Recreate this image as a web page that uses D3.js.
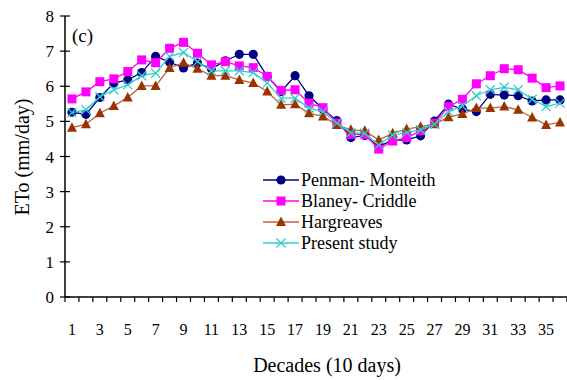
<!DOCTYPE html>
<html><head><meta charset="utf-8">
<script src="https://cdn.jsdelivr.net/npm/d3@7"></script>
<style>body{margin:0;background:#fff}svg{display:block}text{font-family:"Liberation Serif","Times New Roman",serif;fill:#000}</style>
</head><body><svg id="c" width="567" height="380"></svg>
<script>
const decades = d3.range(1, 37);
const tickLabels = d3.range(1, 37, 2);
const penman = [5.26,5.2,5.68,6.09,6.18,6.39,6.85,6.69,6.52,6.66,6.5,6.72,6.91,6.91,6.28,5.85,6.3,5.73,5.35,5.02,4.54,4.6,4.28,4.47,4.47,4.59,5.01,5.49,5.35,5.28,5.77,5.75,5.73,5.58,5.61,5.61];
const blaney = [5.64,5.84,6.13,6.21,6.42,6.75,6.67,7.08,7.25,6.94,6.61,6.7,6.58,6.53,6.28,5.88,5.9,5.52,5.39,4.95,4.63,4.63,4.21,4.44,4.54,4.73,4.95,5.42,5.63,6.07,6.3,6.5,6.47,6.23,5.96,6.01];
const hargreaves = [4.82,4.92,5.23,5.44,5.68,6.01,6.01,6.52,6.67,6.5,6.3,6.3,6.18,6.09,5.85,5.47,5.49,5.23,5.14,4.9,4.76,4.73,4.47,4.66,4.78,4.85,4.92,5.12,5.21,5.38,5.38,5.42,5.33,5.11,4.9,4.97];
const present = [5.25,5.33,5.7,5.9,6.04,6.3,6.37,6.85,6.96,6.7,6.44,6.44,6.44,6.39,6.09,5.66,5.66,5.38,5.28,4.95,4.68,4.66,4.33,4.61,4.68,4.76,4.92,5.28,5.44,5.73,5.9,5.97,5.9,5.63,5.42,5.52];
const seriesNames = ["Penman- Monteith","Blaney- Criddle","Hargreaves","Present study"];
const yTicks = [0,1,2,3,4,5,6,7,8];

const svg = d3.select("#c");
const x = d3.scaleBand().domain(decades).range([65, 567]);
const y = d3.scaleLinear().domain([0, 8]).range([297, 16]);

const series = [
  {name: seriesNames[0], values: penman, line: "#000080", fill: "#000080", shape: "circle"},
  {name: seriesNames[1], values: blaney, line: "#ff00ff", fill: "#ff00ff", shape: "square"},
  {name: seriesNames[2], values: hargreaves, line: "#b4643c", fill: "#993300", shape: "triangle"},
  {name: seriesNames[3], values: present, line: "#33cccc", fill: "#33cccc", shape: "x"}
];

// axes
const xAxis = svg.append("g").attr("transform", "translate(0,297)");
xAxis.append("line").attr("x1", 65).attr("x2", 567).attr("stroke", "#000").attr("stroke-width", 1.5);
xAxis.selectAll("line.t").data(d3.range(0, 37)).join("line").attr("class","t")
  .attr("x1", i => 65 + i * x.step()).attr("x2", i => 65 + i * x.step())
  .attr("y1", 0).attr("y2", 5).attr("stroke", "#000").attr("stroke-width", 1.2);
xAxis.selectAll("text").data(tickLabels).join("text")
  .attr("x", d => x(d) + x.bandwidth()/2).attr("y", 38)
  .attr("text-anchor", "middle").attr("font-size", 16).text(d => d);

const yAxis = svg.append("g");
yAxis.append("line").attr("x1", 65).attr("x2", 65).attr("y1", 16).attr("y2", 297).attr("stroke", "#000").attr("stroke-width", 1.5);
yAxis.selectAll("line.t").data(yTicks).join("line").attr("class","t")
  .attr("x1", 60).attr("x2", 70).attr("y1", d => y(d)).attr("y2", d => y(d))
  .attr("stroke", "#000").attr("stroke-width", 1.2);
yAxis.selectAll("text").data(yTicks).join("text")
  .attr("x", 54).attr("y", d => y(d) + 6).attr("text-anchor", "end")
  .attr("font-size", 17).text(d => d);

svg.append("text").attr("transform", "translate(29,157) rotate(-90)")
  .attr("text-anchor", "middle").attr("font-size", 20).text("ETo (mm/day)");
svg.append("text").attr("x", 327).attr("y", 372).attr("text-anchor", "middle")
  .attr("font-size", 20).text("Decades (10 days)");
svg.append("text").attr("x", 72).attr("y", 42).attr("font-size", 19).text("(c)");

function marker(g, shape, fill, cx, cy) {
  if (shape === "circle") g.append("circle").attr("cx", cx).attr("cy", cy).attr("r", 4.6).attr("fill", fill);
  else if (shape === "square") g.append("rect").attr("x", cx-4.5).attr("y", cy-4.5).attr("width", 9).attr("height", 9).attr("fill", fill);
  else if (shape === "triangle") g.append("path").attr("d", `M${cx},${cy-5.5}L${cx+5},${cy+4}L${cx-5},${cy+4}Z`).attr("fill", fill);
  else g.append("path").attr("d", `M${cx-4.5},${cy-4.5}L${cx+4.5},${cy+4.5}M${cx+4.5},${cy-4.5}L${cx-4.5},${cy+4.5}`).attr("stroke", fill).attr("stroke-width", 1.3).attr("fill", "none");
}

const line = d3.line().x((d, i) => x(decades[i]) + x.bandwidth()/2).y(d => y(d));
[0, 1, 2, 3].forEach(k => {
  const s = series[k];
  const g = svg.append("g");
  g.append("path").attr("d", line(s.values)).attr("fill", "none").attr("stroke", s.line).attr("stroke-width", 1.3);
  s.values.forEach((v, i) => marker(g, s.shape, s.fill, x(decades[i]) + x.bandwidth()/2, y(v)));
});

// legend
const lg = svg.append("g");
series.forEach((s, i) => {
  const yy = 180 + i * 21;
  lg.append("line").attr("x1", 263).attr("x2", 299).attr("y1", yy).attr("y2", yy).attr("stroke", s.line).attr("stroke-width", 1.3);
  marker(lg, s.shape, s.fill, 281, yy);
  lg.append("text").attr("x", 301).attr("y", yy + 6).attr("font-size", 18).text(s.name);
});
</script></body></html>
